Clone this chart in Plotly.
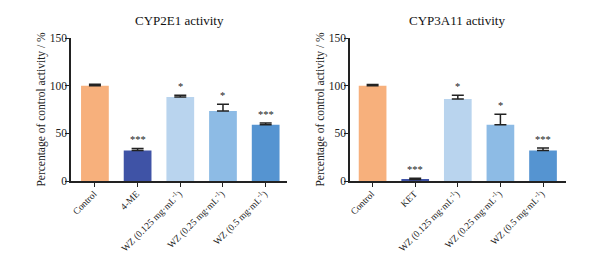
import plotly.graph_objects as go

cats_2e1 = ["Control", "4-ME", "WZ (0.125 mg·mL<sup>-1</sup>)", "WZ (0.25 mg·mL<sup>-1</sup>)", "WZ (0.5 mg·mL<sup>-1</sup>)"]
vals_2e1 = [100, 32, 88, 73.5, 59]
err_2e1 = [1.5, 2.2, 2.0, 7.0, 1.8]
sig_2e1 = ["", "***", "*", "*", "***"]

cats_3a11 = ["Control", "KET", "WZ (0.125 mg·mL<sup>-1</sup>)", "WZ (0.25 mg·mL<sup>-1</sup>)", "WZ (0.5 mg·mL<sup>-1</sup>)"]
vals_3a11 = [100, 1.5, 86, 59, 32]
err_3a11 = [1.2, 1.3, 4.0, 11.0, 2.5]
sig_3a11 = ["", "***", "*", "*", "***"]

colors = ["#F7B07C", "#3F53A6", "#B9D4EE", "#8DBBE5", "#5594D1"]
titles = ["CYP2E1 activity", "CYP3A11 activity"]
y_ticks = [0, 50, 100, 150]

FONT = "Liberation Serif, Times New Roman, serif"
W, H = 590, 247  # page body has an 8px margin inside the 598x255 window

fig = go.Figure()

panels = [
    (cats_2e1, vals_2e1, err_2e1, sig_2e1, "x", "y", 0.2915),
    (cats_3a11, vals_3a11, err_3a11, sig_3a11, "x2", "y2", 0.761),
]

ann = []
for i, (cats, vals, errs, sigs, xa, ya, tx) in enumerate(panels):
    idx = list(range(len(cats)))
    fig.add_trace(go.Bar(
        x=idx, y=vals, marker=dict(color=colors, line=dict(width=0)),
        width=0.65, xaxis=xa, yaxis=ya, showlegend=False,
        error_y=dict(type="data", symmetric=False, array=errs,
                     arrayminus=[0] * len(errs), color="#222222",
                     thickness=1.5, width=6),
    ))
    for j, s in enumerate(sigs):
        if s:
            ann.append(dict(x=j, y=vals[j] + errs[j] + 1, xref=xa, yref=ya,
                            text=s, showarrow=False, yanchor="bottom",
                            xanchor="center",
                            font=dict(family=FONT, size=10.5, color="#222222")))
    ann.append(dict(x=tx, y=0.9514, xref="paper", yref="paper",
                    text=titles[i], showarrow=False, yanchor="middle",
                    xanchor="center",
                    font=dict(family=FONT, size=13, color="#111111")))

ax_common = dict(showline=True, linecolor="#222222", linewidth=1.5,
                 ticks="outside", ticklen=4, tickwidth=1.2, tickcolor="#222222",
                 showgrid=False, zeroline=False, automargin=False)

xcommon = dict(tickmode="array", tickvals=list(range(5)), tickangle=-45,
               tickfont=dict(family=FONT, size=9.5),
               ticklabelshift=-1, ticklabelstandoff=-2, **ax_common)
ycommon = dict(range=[0, 150], tickvals=y_ticks, domain=[0.2996, 0.8785],
               tickfont=dict(family=FONT, size=11.5), ticklabelstandoff=-4,
               title=dict(text="Percentage of control activity / %",
                          font=dict(family=FONT, size=11.5), standoff=2),
               **ax_common)

fig.update_layout(
    width=W, height=H,
    margin=dict(l=0, r=0, t=0, b=0, autoexpand=False),
    plot_bgcolor="white", paper_bgcolor="white",
    font=dict(family=FONT, color="#222222"),
    annotations=ann,
    xaxis=dict(domain=[0.1068, 0.4729], range=[-0.56, 4.5],
               ticktext=cats_2e1, anchor="y", **xcommon),
    yaxis=dict(anchor="x", **ycommon),
    xaxis2=dict(domain=[0.5797, 0.9458], range=[-0.53, 4.54],
                ticktext=cats_3a11, anchor="y2", **xcommon),
    yaxis2=dict(anchor="x2", **ycommon),
)

fig.write_html("out.html")
